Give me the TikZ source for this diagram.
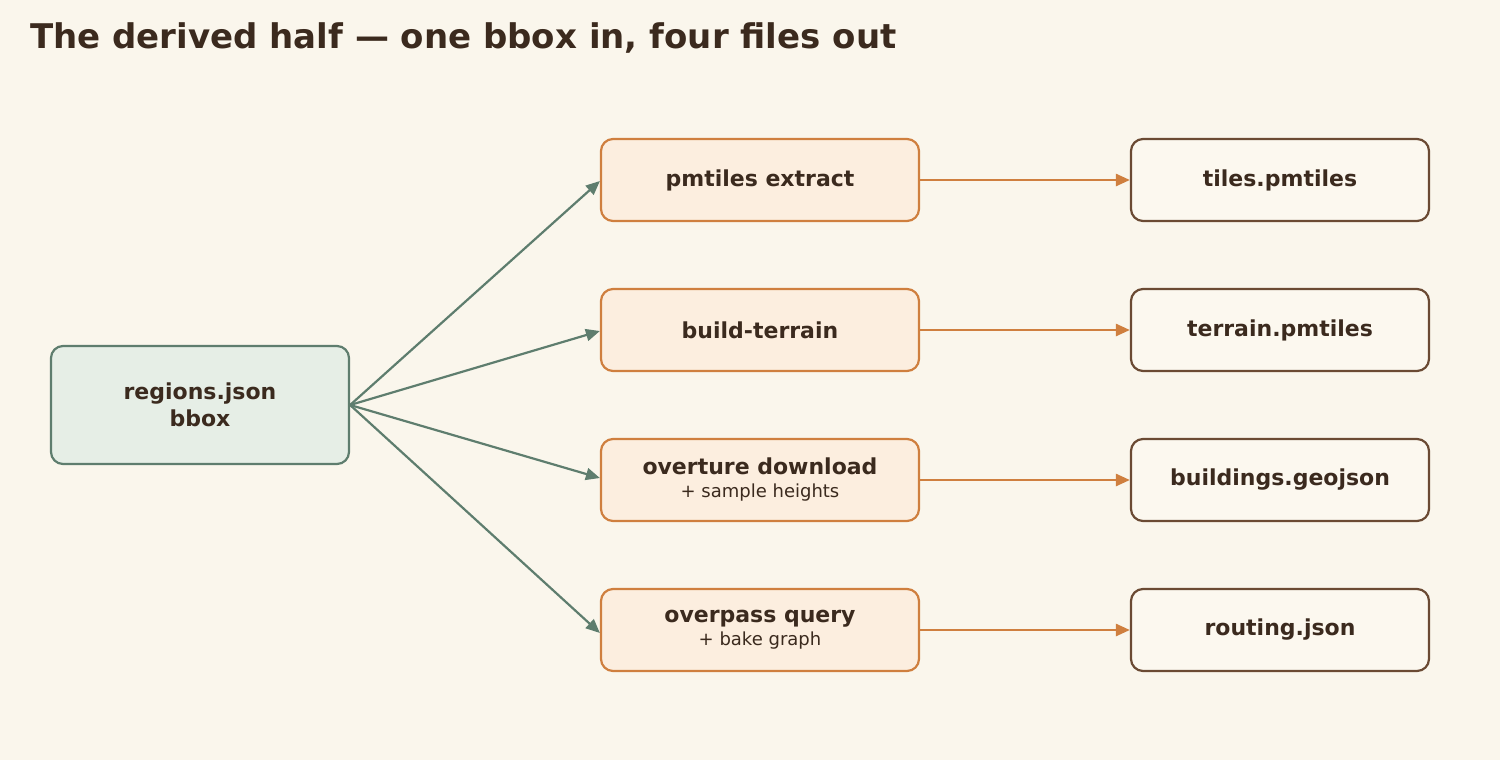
\documentclass[tikz,border=0pt]{standalone}
\usepackage{fontspec}
\setmainfont{DejaVu Sans}
\usetikzlibrary{arrows.meta,positioning}
\definecolor{bgcol}{HTML}{FAF6EC}
\definecolor{inkcol}{HTML}{3B2A1E}
\definecolor{srcfill}{HTML}{E6EEE6}
\definecolor{srcline}{HTML}{5E7D6E}
\definecolor{stepfill}{HTML}{FCEEDF}
\definecolor{stepline}{HTML}{CF7F3F}
\definecolor{filefill}{HTML}{FCF8EF}
\definecolor{fileline}{HTML}{6B4A33}
\newcommand{\subtext}[1]{{\fontsize{9}{11}\selectfont\mdseries #1}}
\tikzset{
  box/.style={rounded corners=6pt, line width=1.1pt, align=center, text=inkcol, font=\fontsize{11}{13.5}\selectfont\bfseries, inner sep=0pt},
  src/.style={box, fill=srcfill, draw=srcline, minimum width=149pt, minimum height=59pt},
  stage/.style={box, fill=stepfill, draw=stepline, minimum width=159pt, minimum height=41pt},
  product/.style={box, fill=filefill, draw=fileline, minimum width=149pt, minimum height=41pt},
  fan/.style={draw=srcline, line width=1.1pt, -{Triangle[length=7pt,width=6pt]}},
  feed/.style={draw=stepline, line width=1.3pt, -{Triangle[length=7pt,width=6pt]}}
}
\begin{document}
\begin{tikzpicture}[x=0.5pt,y=-0.5pt]
\fill[bgcol] (0,0) rectangle (1500,760);
\useasboundingbox (0,0) rectangle (1500,760);

% title
\node[anchor=west, text=inkcol, font=\fontsize{17}{20}\selectfont\bfseries] (title) at (23,38) {The derived half — one bbox in, four files out};

% source
\node[src] (regions) at (200,405) {regions.json\\bbox};

% stages
\node[stage] (extract) at (760,180) {pmtiles extract};
\node[stage] (terrain) at (760,330) {build-terrain};
\node[stage] (overture) at (760,480) {overture download\\[-2pt]\subtext{+ sample heights}};
\node[stage] (overpass) at (760,630) {overpass query\\[-2pt]\subtext{+ bake graph}};

% outputs
\node[product] (tiles) at (1280,180) {tiles.pmtiles};
\node[product] (terrainout) at (1280,330) {terrain.pmtiles};
\node[product] (buildings) at (1280,480) {buildings.geojson};
\node[product] (routing) at (1280,630) {routing.json};

% fan out
\coordinate (fanpt) at (regions.east);
\draw[fan] (fanpt) -- ([yshift=-0.5pt]extract.west);
\draw[fan] (fanpt) -- ([yshift=-0.5pt]terrain.west);
\draw[fan] (fanpt) -- ([yshift=1pt]overture.west);
\draw[fan] (fanpt) -- ([yshift=-1.5pt]overpass.west);

% stage to file
\draw[feed] (extract) -- (tiles);
\draw[feed] (terrain) -- (terrainout);
\draw[feed] (overture) -- (buildings);
\draw[feed] (overpass) -- (routing);
\end{tikzpicture}
\end{document}
